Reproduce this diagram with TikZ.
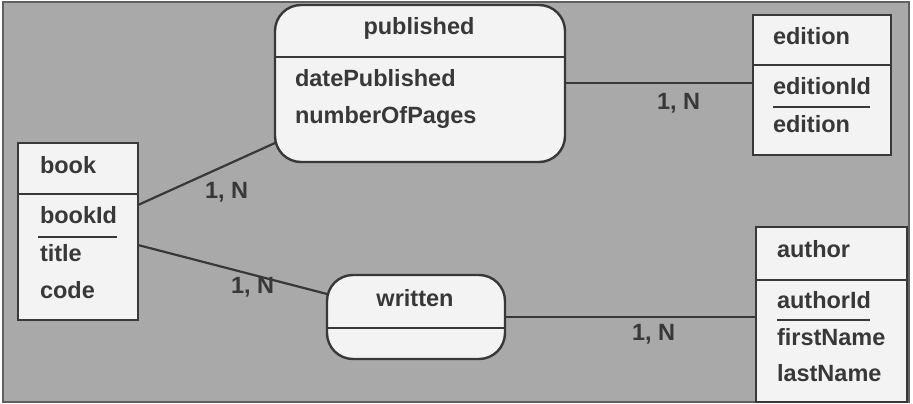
\documentclass[tikz,border=0pt]{standalone}
\usepackage{fontspec}
\setmainfont{Liberation Sans}
\definecolor{bg}{HTML}{A9A9A9}
\definecolor{ink}{HTML}{383838}
\definecolor{boxfill}{HTML}{F3F3F3}
\begin{document}
\begin{tikzpicture}[x=1pt,y=-1pt,
  every node/.style={inner sep=0pt,outer sep=0pt},
  ent/.style={draw=ink,line width=2.4pt,fill=boxfill,anchor=north west},
  rel/.style={ent,rounded corners=26pt},
  txt/.style={anchor=base west,text=ink,font=\fontsize{23.5}{27}\selectfont\bfseries},
  ctxt/.style={anchor=base,text=ink,font=\fontsize{23.5}{27}\selectfont\bfseries},
  conn/.style={draw=ink,line width=2.2pt},
  keyline/.style={draw=ink,line width=2.6pt}]
\useasboundingbox (0,0) rectangle (913,404);
\fill[white] (0,0) rectangle (913,404);
\draw[fill=bg,draw=ink!80,line width=2pt] (3,2) rectangle (909,402);

% entities and relationships
\node[ent,minimum width=120pt,minimum height=177pt] (book) at (18,143) {};
\node[rel,minimum width=290pt,minimum height=157pt] (published) at (275,5) {};
\node[ent,minimum width=138pt,minimum height=140pt] (edition) at (753,15) {};
\node[rel,minimum width=178pt,minimum height=84pt] (written) at (327,275) {};
\node[ent,minimum width=151pt,minimum height=175pt] (author) at (756,227) {};

% dividers
\draw[conn] ([yshift=-51pt]book.north west) -- ([yshift=-51pt]book.north east);
\draw[conn] ([yshift=-52pt]published.north west) -- ([yshift=-52pt]published.north east);
\draw[conn] ([yshift=-50pt]edition.north west) -- ([yshift=-50pt]edition.north east);
\draw[conn] ([yshift=-53pt]written.north west) -- ([yshift=-53pt]written.north east);
\draw[conn] ([yshift=-53pt]author.north west) -- ([yshift=-53pt]author.north east);

% texts
\node[txt] (tbook) at (40,173) {book};
\node[txt] (tbookid) at (40,223) {bookId};
\node[txt] (ttitle) at (40,261) {title};
\node[txt] (tcode) at (40,298) {code};
\draw[keyline] (38,237) -- (117,237);

\node[ctxt] (tpub) at (419,35) {published};
\node[txt] (tdate) at (295,86) {datePublished};
\node[txt] (tpages) at (295,123) {numberOfPages};

\node[txt] (tedition) at (773,45) {edition};
\node[txt] (teditionid) at (773,95) {editionId};
\node[txt] (tedattr) at (773,132) {edition};
\draw[keyline] (773,107) -- (870,107);

\node[ctxt] (twritten) at (415,306) {written};

\node[txt] (tauthor) at (777,257) {author};
\node[txt] (tauthorid) at (777,308) {authorId};
\node[txt] (tfirst) at (777,345) {firstName};
\node[txt] (tlast) at (777,381) {lastName};
\draw[keyline] (777,320) -- (870,320);

% connectors
\draw[conn] ([yshift=-62pt]book.north east) -- ([yshift=19pt]published.south west);
\draw[conn] ([yshift=-102pt]book.north east) -- ([yshift=23pt]written.west);
\draw[conn] ([yshift=-78pt]published.north east) -- ([yshift=-68pt]edition.north west);
\draw[conn] (written.east) -- ([yshift=-90pt]author.north west);

% cardinalities
\node[txt] (c1) at (205,198) {1, N};
\node[txt] (c2) at (231,293) {1, N};
\node[txt] (c3) at (657,110) {1, N};
\node[txt] (c4) at (632,340) {1, N};
\end{tikzpicture}
\end{document}
